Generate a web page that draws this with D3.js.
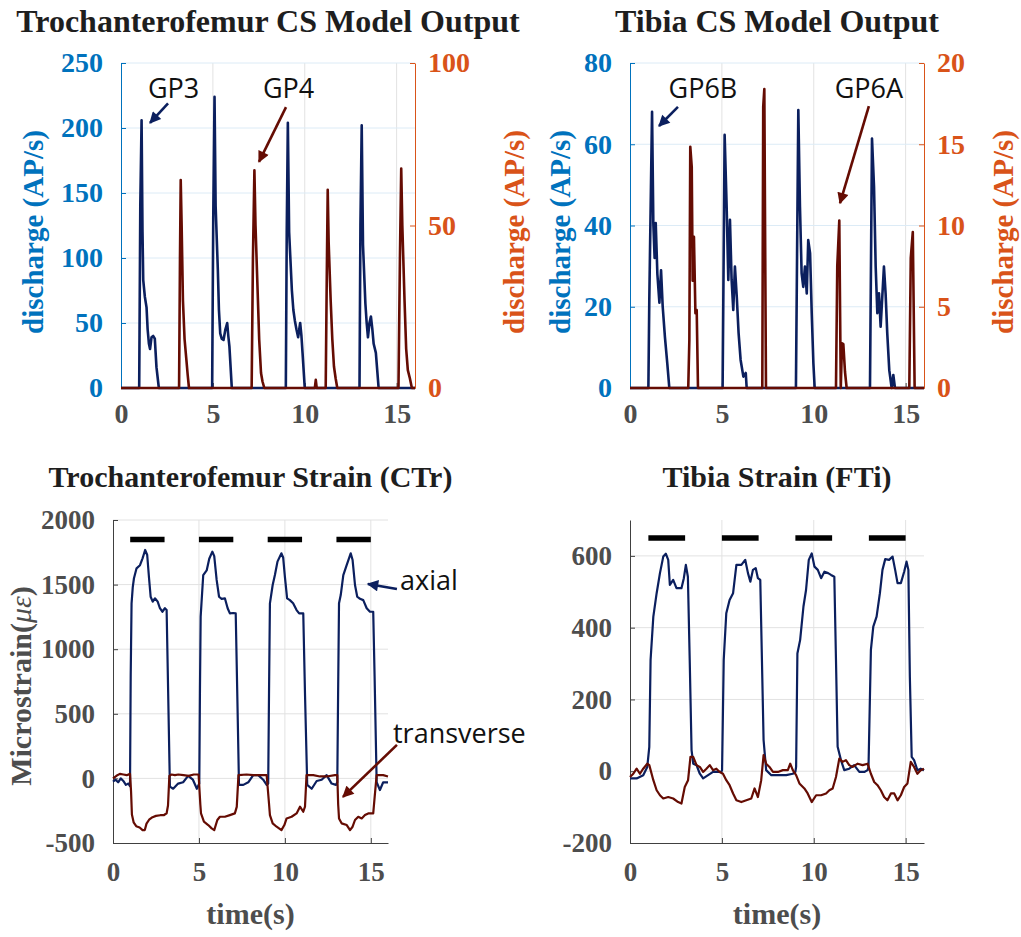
<!DOCTYPE html>
<html>
<head>
<meta charset="utf-8">
<script src="https://cdn.jsdelivr.net/npm/d3@7"></script>
<style>
  body { margin: 0; background: #fff; }
</style>
</head>
<body>
<div id="wrapper"></div>
<script>
// ---- data: [time (s), value] ----
const timeTicks = [0, 5, 10, 15]

// Trochanterofemur CS model output
const gp3Discharge = [[0,0],[0.99,0],[1.05,140],[1.12,206],[1.17,120],[1.21,83],[1.3,70],[1.39,62],[1.45,45],[1.52,34],[1.58,30],[1.66,39],[1.75,40],[1.84,38],[1.93,16],[2.06,0],
  [4.96,0],[5.02,130],[5.09,224],[5.15,140],[5.27,91],[5.33,60],[5.4,42],[5.48,38],[5.58,37],[5.68,45],[5.78,50],[5.84,40],[5.9,32],[6.03,0],
  [8.97,0],[9.02,120],[9.08,204],[9.15,120],[9.3,75],[9.38,60],[9.46,52],[9.55,45],[9.64,39],[9.75,50],[9.82,40],[9.88,27],[10.0,0],
  [12.98,0],[13.03,125],[13.1,202],[13.17,110],[13.3,65],[13.37,50],[13.44,39],[13.52,50],[13.6,55],[13.68,45],[13.75,34],[13.87,27],[14.02,0],[16,0]]
const gp4Discharge = [[0,0],[3.16,0],[3.21,40],[3.25,64],[3.3,50],[3.37,27],[3.46,15],[3.56,8.6],[3.63,4],[3.7,0],
  [7.11,0],[7.18,40],[7.26,67],[7.32,50],[7.44,29],[7.52,15],[7.62,4.6],[7.7,2],[7.8,0],
  [10.55,0],[10.6,2.5],[10.65,0],
  [11.14,0],[11.2,35],[11.25,61],[11.3,45],[11.41,27],[11.5,15],[11.59,6.6],[11.68,3],[11.77,0],
  [15.1,0],[15.18,40],[15.25,67.5],[15.31,50],[15.43,27],[15.52,12],[15.61,5.5],[15.72,3],[15.83,0],[16,0]]

// Tibia CS model output
const gp6bDischarge = [[0,0],[1.0,0],[1.05,21.7],[1.14,49.5],[1.2,68],[1.27,40.5],[1.34,32],[1.4,40.6],[1.49,28],[1.6,21],[1.69,29],[1.78,20],[1.9,12.6],[2.03,6],[2.14,0],
  [5.04,0],[5.15,62.3],[5.26,44.6],[5.35,26.6],[5.44,41.4],[5.53,26.6],[5.62,19.2],[5.71,29.9],[5.81,22.5],[5.91,13.5],[6.02,6.9],[6.17,2.8],[6.3,3.7],[6.35,0],
  [9.03,0],[9.16,68.4],[9.25,44.6],[9.34,28.2],[9.43,24.9],[9.52,29.9],[9.62,23.3],[9.7,36.4],[9.8,33.2],[9.89,18.4],[9.98,6.1],[10.05,0],
  [13.06,0],[13.17,61.4],[13.28,49.5],[13.37,29.9],[13.46,18.4],[13.55,23.3],[13.64,15.1],[13.73,22.5],[13.82,29.9],[13.91,23.3],[14.0,13.5],[14.11,4.4],[14.24,0],[14.33,3.2],[14.42,0],[16,0]]
const gp6aDischarge = [[0,0],[3.17,0],[3.23,2.95],[3.28,14.85],[3.36,13.6],[3.41,6.6],[3.48,9.3],[3.56,4.6],[3.63,4.8],[3.7,0],
  [7.2,0],[7.25,17.3],[7.31,18.4],[7.36,8],[7.4,0],
  [11.21,0],[11.28,7.5],[11.39,10.3],[11.47,0],[11.54,2.75],[11.61,2.7],[11.7,1],[11.79,0],
  [15.2,0],[15.28,8.0],[15.39,9.6],[15.49,0],[16,0]]

// Trochanterofemur strain (CTr), microstrain
const ctrAxial = [[0,-25],[0.15,-10],[0.3,-30],[0.45,0],[0.6,-20],[0.75,-50],[0.9,-40],[0.99,-60],
  [1.03,800],[1.08,1355],[1.15,1480],[1.22,1549],[1.37,1626],[1.57,1650],[1.72,1703],[1.87,1768],[1.99,1729],[2.09,1561],[2.19,1406],[2.31,1368],[2.44,1394],[2.6,1368],[2.73,1317],[2.87,1290],[3.02,1317],[3.12,1303],[3.21,659],[3.31,-64],[3.5,-80],[3.79,-40],[4.08,-30],[4.37,20],[4.65,-10],[4.88,-80],
  [5.02,-40],[5.06,700],[5.1,1252],[5.25,1574],[5.45,1610],[5.6,1700],[5.78,1755],[5.89,1720],[6.03,1536],[6.17,1406],[6.32,1390],[6.51,1394],[6.67,1317],[6.8,1277],[6.99,1280],[7.14,1277],[7.23,659],[7.33,-50],[7.58,-50],[7.87,-30],[8.16,25],[8.45,25],[8.74,-10],[8.94,-50],
  [9.03,-40],[9.08,700],[9.13,1355],[9.29,1497],[9.42,1574],[9.57,1678],[9.8,1742],[9.9,1710],[10.0,1561],[10.13,1394],[10.29,1380],[10.48,1355],[10.68,1303],[10.83,1277],[11.07,1277],[11.17,659],[11.3,-50],[11.56,-80],[11.85,-20],[12.14,-10],[12.43,25],[12.72,-40],[12.97,-50],
  [13.05,-30],[13.1,700],[13.15,1355],[13.25,1419],[13.4,1574],[13.6,1652],[13.83,1742],[13.94,1690],[14.08,1497],[14.21,1406],[14.37,1390],[14.56,1380],[14.76,1317],[14.95,1290],[15.14,1290],[15.22,790],[15.34,-30],[15.53,-90],[15.72,-30],[16,-30]]
const ctrTransverse = [[0,0],[0.2,20],[0.4,35],[0.6,30],[0.8,25],[0.99,35],
  [1.05,-100],[1.1,-280],[1.2,-340],[1.35,-370],[1.55,-380],[1.72,-400],[1.85,-400],[1.95,-350],[2.1,-320],[2.3,-300],[2.5,-290],[2.75,-285],[2.95,-285],[3.12,-270],[3.2,-210],[3.28,20],[3.4,30],[3.6,25],[3.8,30],[4.1,25],[4.4,20],[4.7,30],[4.98,30],
  [5.08,-200],[5.12,-270],[5.29,-335],[5.54,-361],[5.74,-387],[5.89,-400],[6.07,-322],[6.22,-297],[6.51,-297],[6.8,-284],[7.09,-271],[7.2,-220],[7.3,25],[7.77,30],[8.16,25],[8.55,25],[8.94,25],
  [9.08,-200],[9.13,-284],[9.29,-348],[9.52,-374],[9.8,-400],[9.97,-361],[10.1,-310],[10.39,-297],[10.68,-271],[10.88,-219],[11.07,-258],[11.17,-219],[11.26,25],[11.65,25],[12.04,15],[12.43,15],[12.91,25],[13.05,25],
  [13.1,-200],[13.15,-310],[13.3,-348],[13.6,-361],[13.79,-400],[13.94,-374],[14.08,-322],[14.27,-297],[14.47,-310],[14.66,-284],[14.85,-271],[15.14,-271],[15.24,-120],[15.34,25],[15.72,25],[16,15]]

// Tibia strain (FTi), microstrain
const ftiAxial = [[0,-20],[0.36,-20],[0.72,-11],[0.94,12],[1.05,68],[1.12,310],[1.27,431],[1.45,496],[1.63,552],[1.81,598],[1.95,606],[2.08,589],[2.17,519],[2.35,533],[2.53,510],[2.8,510],[2.93,538],[3.04,575],[3.15,542],[3.25,310],[3.35,59],[3.44,21],[3.62,17],[3.8,-7],[3.98,-20],[4.25,-11],[4.52,-2],[4.79,-2],[4.97,-2],
  [5.01,3],[5.1,310],[5.24,440],[5.42,477],[5.61,496],[5.79,575],[6.06,575],[6.27,589],[6.42,552],[6.55,528],[6.69,561],[6.84,566],[6.96,538],[7.09,533],[7.18,310],[7.27,87],[7.41,3],[7.69,-11],[8.05,-11],[8.5,-11],[8.86,-7],[9.0,-2],
  [9.04,12],[9.11,328],[9.26,366],[9.44,459],[9.58,505],[9.73,589],[9.89,607],[10.04,570],[10.22,561],[10.4,538],[10.58,556],[10.78,552],[10.94,547],[11.12,542],[11.21,310],[11.3,68],[11.48,31],[11.66,3],[11.93,7],[12.2,17],[12.48,-2],[12.75,-2],[12.93,3],
  [12.98,12],[13.11,338],[13.24,403],[13.42,431],[13.6,496],[13.74,561],[13.89,591],[14.1,589],[14.29,598],[14.43,561],[14.56,524],[14.74,524],[14.92,556],[15.05,584],[15.15,561],[15.23,263],[15.33,40],[15.46,31],[15.64,3],[15.82,7],[16,3]]
const ftiTransverse = [[0,-16],[0.18,-7],[0.36,7],[0.54,-7],[0.72,7],[0.94,21],[1.05,17],[1.27,-25],[1.45,-53],[1.63,-67],[1.81,-76],[2.08,-72],[2.35,-76],[2.62,-86],[2.8,-90],[2.98,-44],[3.16,-25],[3.29,40],[3.44,40],[3.62,17],[3.8,12],[3.98,-2],[4.16,7],[4.34,17],[4.52,3],[4.7,7],[4.88,-2],[5.06,-7],
  [5.24,-25],[5.42,-39],[5.61,-62],[5.79,-81],[6.06,-86],[6.33,-81],[6.6,-76],[6.78,-48],[6.96,-72],[7.14,-25],[7.27,45],[7.41,21],[7.59,12],[7.78,-2],[8.05,-2],[8.32,3],[8.59,3],[8.72,21],[8.86,3],[9.04,-11],
  [9.22,-34],[9.49,-48],[9.67,-62],[9.89,-86],[10.13,-67],[10.4,-67],[10.67,-62],[10.85,-53],[11.03,-48],[11.21,-16],[11.39,35],[11.57,26],[11.75,31],[11.93,17],[12.12,12],[12.39,21],[12.66,17],[12.93,21],
  [13.11,-7],[13.29,-30],[13.47,-39],[13.65,-53],[13.83,-72],[14.01,-81],[14.2,-62],[14.38,-62],[14.56,-81],[14.74,-67],[14.92,-44],[15.1,-34],[15.28,26],[15.46,12],[15.64,-7],[15.82,3],[16,7]]

// stimulus bars (start, end) in seconds
const stimulusBars = [[1, 3], [5, 7], [9, 11], [13, 15]]

const serif = "'Liberation Serif', 'Times New Roman', serif"
const sans = "'Open Sans', 'Noto Sans', sans-serif"
const colors = {
  blue: "#0072bd", orange: "#d95319", navy: "#0b1f5e", maroon: "#650c03",
  gray: "#4d4d4d", axis: "#404040", grid: "#e2e2e2", blueGrid: "#dcebf6", title: "#1e1e1e"
}

drawChart()

function drawChart() {
  const svg = d3.select("#wrapper")
    .append("svg")
    .attr("width", 1021)
    .attr("height", 937)
  addMarkers(svg)

  drawPanel(svg, {
    box: {left: 121, right: 415, top: 63, bottom: 388},
    title: "Trochanterofemur CS Model Output", titleY: 32,
    left: {domain: [0, 250], ticks: d3.range(0, 251, 50), color: colors.blue, gridColor: colors.blueGrid, labelX: 33},
    right: {domain: [0, 100], ticks: [0, 50, 100], color: colors.orange, labelX: 514},
    labelY: 232, tickFont: 28, xPad: 15, lineWidth: 2.6,
    series: [{data: gp3Discharge, axis: "left", color: colors.navy}, {data: gp4Discharge, axis: "right", color: colors.maroon}],
    notes: [
      {text: "GP3", at: [2.86, 223], from: [2.56, 219], to: [1.58, 204], color: colors.navy},
      {text: "GP4", at: [9.12, 223], from: [8.98, 216], to: [7.51, 174], color: colors.maroon}
    ]
  })

  drawPanel(svg, {
    box: {left: 630, right: 924, top: 63, bottom: 388},
    title: "Tibia CS Model Output", titleY: 32,
    left: {domain: [0, 80], ticks: d3.range(0, 81, 20), color: colors.blue, gridColor: colors.blueGrid, labelX: 560},
    right: {domain: [0, 20], ticks: d3.range(0, 21, 5), color: colors.orange, labelX: 1003},
    labelY: 232, tickFont: 28, xPad: 15, lineWidth: 2.6,
    series: [{data: gp6bDischarge, axis: "left", color: colors.navy}, {data: gp6aDischarge, axis: "right", color: colors.maroon}],
    notes: [
      {text: "GP6B", at: [3.97, 71.4], from: [2.61, 69.2], to: [1.58, 64.5], color: colors.navy},
      {text: "GP6A", at: [13.0, 71.4], from: [13.0, 69.4], to: [11.43, 45.5], color: colors.maroon}
    ]
  })

  drawPanel(svg, {
    box: {left: 113, right: 388, top: 520, bottom: 843},
    title: "Trochanterofemur Strain (CTr)", titleY: 487, titleSize: 30,
    left: {domain: [-500, 2000], ticks: d3.range(-500, 2001, 500), color: colors.gray, axisColor: colors.axis, gridColor: colors.grid, labelX: 20, label: "strain"},
    labelY: 686, tickFont: 27, xPad: 19, xLabel: true, lineWidth: 2.2,
    series: [{data: ctrAxial, axis: "left", color: colors.navy}, {data: ctrTransverse, axis: "left", color: colors.maroon}],
    bars: 1850,
    notes: [
      {text: "axial", at: [16.7, 1458], anchor: "start", from: [16.52, 1466], to: [14.83, 1505], color: colors.navy},
      {text: "transverse", at: [16.29, 274], anchor: "start", from: [16.52, 259], to: [13.38, -143], color: colors.maroon}
    ]
  })

  drawPanel(svg, {
    box: {left: 630, right: 924, top: 520, bottom: 843},
    title: "Tibia Strain (FTi)", titleY: 487, titleSize: 30,
    left: {domain: [-200, 700], ticks: d3.range(-200, 601, 200), color: colors.gray, axisColor: colors.axis, gridColor: colors.grid},
    labelY: 686, tickFont: 27, xPad: 19, xLabel: true, lineWidth: 2.2,
    series: [{data: ftiAxial, axis: "left", color: colors.navy}, {data: ftiTransverse, axis: "left", color: colors.maroon}],
    bars: 650,
    notes: []
  })
}

function addMarkers(svg) {
  const defs = svg.append("defs")
  for (const [id, c] of [["head-navy", colors.navy], ["head-maroon", colors.maroon]]) {
    defs.append("marker")
      .attr("id", id)
      .attr("viewBox", "0 0 10 10")
      .attr("refX", 9)
      .attr("refY", 5)
      .attr("markerWidth", 5)
      .attr("markerHeight", 4.4)
      .attr("orient", "auto")
      .append("path")
      .attr("d", "M0,0 L10,5 L0,10 z")
      .attr("fill", c)
  }
}

function drawPanel(svg, cfg) {
  const b = cfg.box
  const g = svg.append("g")
  const xScale = d3.scaleLinear().domain([0, 16]).range([b.left, b.right])
  const yLeft = d3.scaleLinear().domain(cfg.left.domain).range([b.bottom, b.top])
  const yRight = cfg.right ? d3.scaleLinear().domain(cfg.right.domain).range([b.bottom, b.top]) : null
  const plain = d => String(d)

  // grid
  g.append("g").selectAll("line")
    .data(timeTicks.filter(d => d > 0))
    .join("line")
    .attr("x1", d => xScale(d)).attr("x2", d => xScale(d))
    .attr("y1", b.top).attr("y2", b.bottom)
    .attr("stroke", colors.grid).attr("stroke-width", 1)
  g.append("g").selectAll("line")
    .data(cfg.left.ticks.filter(d => d > cfg.left.domain[0]))
    .join("line")
    .attr("x1", b.left).attr("x2", b.right)
    .attr("y1", d => yLeft(d)).attr("y2", d => yLeft(d))
    .attr("stroke", cfg.left.gridColor).attr("stroke-width", 1)

  // axes
  const xAxis = g.append("g")
    .attr("transform", `translate(0,${b.bottom})`)
    .call(d3.axisBottom(xScale).tickValues(timeTicks).tickFormat(plain).tickSizeInner(-5).tickSizeOuter(0).tickPadding(cfg.xPad))
  styleAxis(xAxis, colors.axis, colors.gray, cfg.tickFont)

  const leftAxis = g.append("g")
    .attr("transform", `translate(${b.left},0)`)
    .call(d3.axisLeft(yLeft).tickValues(cfg.left.ticks).tickFormat(plain).tickSizeInner(-5).tickSizeOuter(0).tickPadding(18))
  styleAxis(leftAxis, cfg.left.axisColor || cfg.left.color, cfg.left.color, cfg.tickFont)

  if (yRight) {
    const rightAxis = g.append("g")
      .attr("transform", `translate(${b.right},0)`)
      .call(d3.axisRight(yRight).tickValues(cfg.right.ticks).tickFormat(plain).tickSizeInner(-5).tickSizeOuter(0).tickPadding(13))
    styleAxis(rightAxis, cfg.right.color, cfg.right.color, cfg.tickFont)
  }

  // stimulus bars
  if (cfg.bars !== undefined) {
    g.append("g").selectAll("line")
      .data(stimulusBars)
      .join("line")
      .attr("x1", d => xScale(d[0])).attr("x2", d => xScale(d[1]))
      .attr("y1", yLeft(cfg.bars)).attr("y2", yLeft(cfg.bars))
      .attr("stroke", "#000").attr("stroke-width", 5.5)
  }

  // data
  for (const s of cfg.series) {
    const yScale = s.axis === "right" ? yRight : yLeft
    const lineGenerator = d3.line()
      .x(d => xScale(d[0]))
      .y(d => yScale(d[1]))
    g.append("path")
      .attr("d", lineGenerator(s.data))
      .attr("fill", "none")
      .attr("stroke", s.color)
      .attr("stroke-width", cfg.lineWidth)
      .attr("stroke-linejoin", "round")
  }

  // title
  g.append("text")
    .attr("x", (b.left + b.right) / 2)
    .attr("y", cfg.titleY)
    .attr("text-anchor", "middle")
    .attr("font-family", serif)
    .attr("font-weight", "bold")
    .attr("font-size", cfg.titleSize || 32)
    .attr("fill", colors.title)
    .text(cfg.title)

  // y labels
  if (cfg.left.label === "strain") {
    const t = g.append("text")
      .attr("transform", `translate(${cfg.left.labelX},${cfg.labelY}) rotate(-90)`)
      .attr("text-anchor", "middle")
      .attr("dominant-baseline", "central")
      .attr("font-family", serif)
      .attr("font-weight", "bold")
      .attr("font-size", 30)
      .attr("fill", colors.gray)
    t.append("tspan").text("Microstrain(")
    t.append("tspan").attr("font-style", "italic").attr("font-weight", "normal").text("με")
    t.append("tspan").text(")")
  } else if (cfg.left.labelX) {
    yLabel(g, cfg.left.labelX, cfg.labelY, cfg.left.color)
  }
  if (cfg.right) yLabel(g, cfg.right.labelX, cfg.labelY, cfg.right.color)

  if (cfg.xLabel) {
    g.append("text")
      .attr("x", (b.left + b.right) / 2)
      .attr("y", 924)
      .attr("text-anchor", "middle")
      .attr("font-family", serif)
      .attr("font-weight", "bold")
      .attr("font-size", 30)
      .attr("fill", colors.gray)
      .text("time(s)")
  }

  // annotations
  for (const n of cfg.notes) {
    g.append("line")
      .attr("x1", xScale(n.from[0])).attr("y1", yLeft(n.from[1]))
      .attr("x2", xScale(n.to[0])).attr("y2", yLeft(n.to[1]))
      .attr("stroke", n.color)
      .attr("stroke-width", 2.6)
      .attr("marker-end", `url(#${n.color === colors.navy ? "head-navy" : "head-maroon"})`)
    g.append("text")
      .attr("x", xScale(n.at[0]))
      .attr("y", yLeft(n.at[1]))
      .attr("text-anchor", n.anchor || "middle")
      .attr("font-family", sans)
      .attr("font-size", 27)
      .attr("fill", "#111")
      .text(n.text)
  }
}

function yLabel(g, x, y, color) {
  g.append("text")
    .attr("transform", `translate(${x},${y}) rotate(-90)`)
    .attr("text-anchor", "middle")
    .attr("dominant-baseline", "central")
    .attr("font-family", serif)
    .attr("font-weight", "bold")
    .attr("font-size", 29)
    .attr("fill", color)
    .text("discharge (AP/s)")
}

function styleAxis(axis, lineColor, textColor, size) {
  axis.attr("font-family", serif)
  axis.select(".domain").attr("stroke", lineColor).attr("stroke-width", 1)
  axis.selectAll(".tick line").attr("stroke", lineColor)
  axis.selectAll(".tick text")
    .attr("fill", textColor)
    .attr("font-family", serif)
    .attr("font-weight", "bold")
    .attr("font-size", size)
}
</script>
</body>
</html>
